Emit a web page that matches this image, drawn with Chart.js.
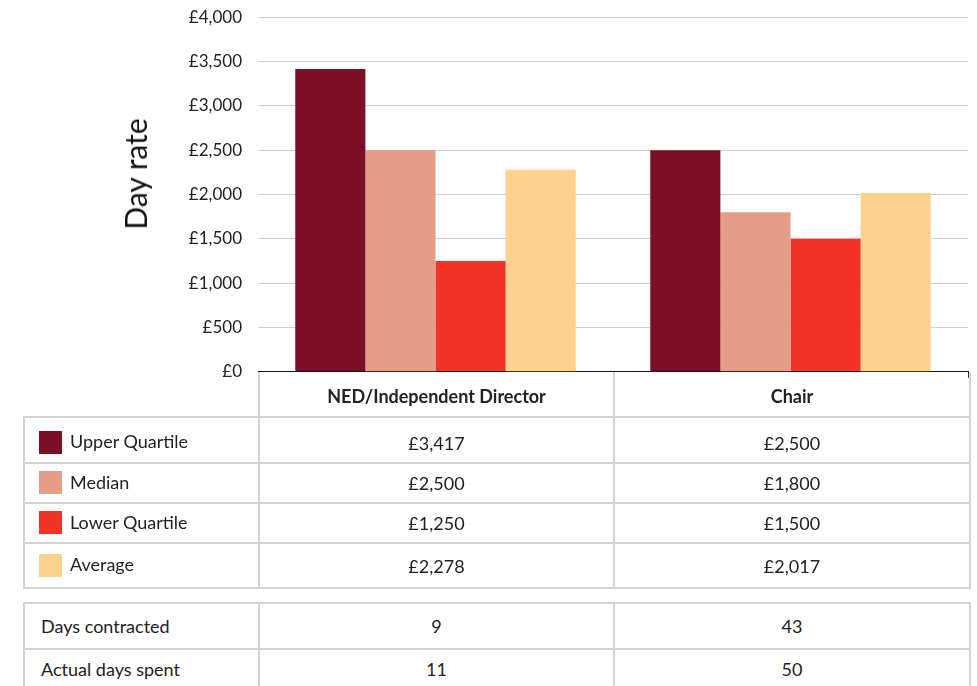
<!DOCTYPE html>
<html>
<head>
<meta charset="utf-8">
<script src="https://cdn.jsdelivr.net/npm/chart.js@4/dist/chart.umd.min.js"></script>
<style>
  html, body { margin: 0; padding: 0; background: #fff; }
  body { width: 977px; height: 686px; position: relative; overflow: hidden; font-family: Lato, "Open Sans", sans-serif; color: #222; }
  #wrap { position: absolute; left: 0; top: -9px; width: 977px; height: 407px; }
  #titreY { position: absolute; left: 135px; top: 174px; font-size: 30px; color: #111; white-space: nowrap;
            transform: translate(-50%, -50%) rotate(-90deg); }
  table { position: absolute; border-collapse: collapse; table-layout: fixed; font-size: 18px; }
  td { border: 2px solid #d4d4d4; padding: 0; text-align: center; }
  td.lbl { text-align: left; padding-left: 16px; }
  td.leg { text-align: left; padding-left: 14px; }
  .sw { display: inline-block; width: 23px; height: 23px; vertical-align: middle; margin-right: 8px; position: relative; top: -1px; }
  #tblRates { left: 23px; top: 372px; width: 946px; }
  #tblRates tr.head td { font-weight: bold; border-top: none; padding-top: 3px; }
  #tblRates tr.head td.blank { border: none; border-bottom: 2px solid #d4d4d4; }
  #tblRates tr.first td { padding-top: 5px; }
  #tblDays { left: 23px; top: 602px; width: 946px; }
  #tblDays tr.second td { padding-bottom: 4px; }
</style>
</head>
<body>
<div id="wrap"><canvas id="graphJour"></canvas></div>
<div id="titreY">Day rate</div>
<table id="tblRates"></table>
<table id="tblDays"></table>
<script>
// categories et séries (£ par jour)
const categories = ['NED/Independent Director', 'Chair'];
const seriesNames = ['Upper Quartile', 'Median', 'Lower Quartile', 'Average'];
const upperQuartile = [3417, 2500];
const median = [2500, 1800];
const lowerQuartile = [1250, 1500];
const average = [2278, 2017];
const daysContracted = [9, 43];
const actualDaysSpent = [11, 50];
const seriesColors = ['#7a0f26', '#e59c89', '#ef3325', '#fcd28c'];

const seriesData = [upperQuartile, median, lowerQuartile, average];

function livres(v) {
  return '£' + v.toLocaleString('en-GB');
}

/* graphe */
const ctx = document.getElementById('graphJour').getContext('2d');

new Chart(ctx, {
  type: 'bar',
  data: {
    labels: categories,
    datasets: seriesNames.map((nom, i) => ({
      label: nom,
      data: seriesData[i],
      backgroundColor: seriesColors[i],
      borderWidth: 0,
      categoryPercentage: 0.79,
      barPercentage: 1.0
    }))
  },
  options: {
    responsive: true,
    maintainAspectRatio: false,
    animation: false,
    layout: { padding: { top: 7, right: 9, left: 0, bottom: 0 } },
    plugins: { legend: { display: false }, tooltip: { enabled: false } },
    scales: {
      x: {
        grid: { drawOnChartArea: false, drawTicks: true, tickLength: 6, color: '#333' },
        border: { color: '#111', width: 1 },
        ticks: { display: false },
        afterFit: function (s) { s.height = 8; }
      },
      y: {
        min: 0,
        max: 4000,
        ticks: {
          stepSize: 500,
          padding: 16,
          color: '#222',
          font: { family: 'Lato', size: 17 },
          callback: v => livres(v)
        },
        grid: { color: '#cfcfcf', lineWidth: 1, drawTicks: false },
        border: { display: false },
        afterFit: function (s) { s.width = 258; }
      }
    }
  }
});

/* tableau des tarifs */
const tblRates = document.getElementById('tblRates');
let html = '<colgroup><col style="width:235px"><col style="width:355px"><col style="width:356px"></colgroup>';
html += '<tr class="head" style="height:45px"><td class="blank"></td>' +
  categories.map(c => '<td>' + c + '</td>').join('') + '</tr>';
const rowH = [46, 40, 40, 45];
seriesNames.forEach((nom, i) => {
  html += '<tr' + (i === 0 ? ' class="first"' : '') + ' style="height:' + rowH[i] + 'px"><td class="leg"><span class="sw" style="background:' +
    seriesColors[i] + '"></span>' + nom + '</td>' +
    seriesData[i].map(v => '<td>' + livres(v) + '</td>').join('') + '</tr>';
});
tblRates.innerHTML = html;

/* tableau des jours */
const tblDays = document.getElementById('tblDays');
tblDays.innerHTML = '<colgroup><col style="width:235px"><col style="width:355px"><col style="width:356px"></colgroup>' +
  '<tr style="height:46px"><td class="lbl">Days contracted</td>' + daysContracted.map(v => '<td>' + v + '</td>').join('') + '</tr>' +
  '<tr class="second" style="height:44px"><td class="lbl">Actual days spent</td>' + actualDaysSpent.map(v => '<td>' + v + '</td>').join('') + '</tr>';
</script>
</body>
</html>
